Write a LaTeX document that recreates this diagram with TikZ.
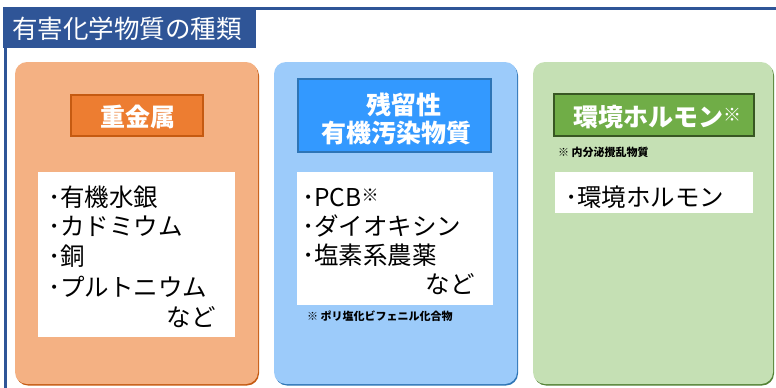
\documentclass[tikz,border=0pt]{standalone}
\usepackage{fontspec}
\setmainfont{Noto Sans CJK JP}
\usetikzlibrary{shadows}
\definecolor{navy}{HTML}{2F5597}
\definecolor{orfill}{HTML}{F4B183}
\definecolor{orhead}{HTML}{ED7D31}
\definecolor{ordark}{HTML}{C55A11}
\definecolor{blfill}{HTML}{9CCBFA}
\definecolor{blhead}{HTML}{3399FF}
\definecolor{bldark}{HTML}{2E75B6}
\definecolor{grfill}{HTML}{C5E0B4}
\definecolor{grhead}{HTML}{70AD47}
\definecolor{grdark}{HTML}{548235}
\definecolor{grborder}{HTML}{385723}
\begin{document}
\begin{tikzpicture}[x=1pt,y=-1pt,
  panel/.style={rounded corners=12pt, inner sep=0pt, minimum height=322pt},
  headbox/.style={inner sep=0pt, line width=2pt},
  whitebox/.style={fill=white, inner sep=0pt},
  body/.style={anchor=west, inner sep=0pt, font=\fontsize{24.5}{24.5}\selectfont, text height=21pt, text depth=3pt},
  bodyr/.style={body, anchor=east},
  headtext/.style={inner sep=0pt, text=white, font=\fontsize{25}{25}\selectfont\bfseries, text height=21pt, text depth=3pt},
  note/.style={anchor=west, inner sep=0pt, font=\fontsize{11}{11}\selectfont\bfseries}
]
\useasboundingbox (0,0) rectangle (776,388);
\fill[white] (0,0) rectangle (776,388);
% frame
\coordinate (tl) at (3,8.5);
\coordinate (tr) at (776,8.5);
\coordinate (lt) at (5,8);
\coordinate (lb) at (5,388);
\draw[navy, line width=2.5pt] (tl) -- (tr);
\draw[navy, line width=3pt] (lt) -- (lb);
\node[fill=navy, anchor=north west, minimum width=253pt, minimum height=41pt, inner sep=0pt] (band) at (3,7) {};
\node[anchor=west, inner sep=0pt, text=white, font=\fontsize{25.5}{25.5}\selectfont, text height=22pt, text depth=3pt] (title) at (12,29) {有害化学物質の種類};
% panels
\node[panel, fill=orfill, minimum width=243pt, drop shadow={shadow xshift=1pt, shadow yshift=-1.5pt, fill=ordark, opacity=1}] (orpanel) at (136.5,223) {};
\node[panel, fill=blfill, minimum width=243pt, drop shadow={shadow xshift=1pt, shadow yshift=-1.5pt, fill=bldark, opacity=1}] (blpanel) at (395.5,223) {};
\node[panel, fill=grfill, minimum width=240pt, drop shadow={shadow xshift=1pt, shadow yshift=-1.5pt, fill=grdark, opacity=1}] (grpanel) at (653,223) {};
% headers
\node[headbox, fill=orhead, draw=ordark, minimum width=132pt, minimum height=41pt] (orhead) at (137,115.5) {};
\node[headtext] (orheadtext) at (137.5,117) {重金属};
\node[headbox, fill=blhead, draw=bldark, minimum width=193pt, minimum height=73pt] (blhead) at (394.5,115.5) {};
\node[headtext] (blheadtext1) at (404,105) {残留性};
\node[headtext] (blheadtext2) at (396,133) {有機汚染物質};
\node[headbox, fill=grhead, draw=grborder, minimum width=200pt, minimum height=42pt] (grhead) at (654,115) {};
\node[headtext, anchor=west] (grheadtext) at (573,117) {環境ホルモン{\fontsize{18}{18}\selectfont\raisebox{5pt}{※}}};
% white boxes
\node[whitebox, minimum width=197pt, minimum height=165pt] (orwhite) at (136.5,254.5) {};
\node[whitebox, minimum width=196pt, minimum height=133pt] (blwhite) at (395,238.5) {};
\node[whitebox, minimum width=198pt, minimum height=41pt] (grwhite) at (654,192.5) {};
% orange items
\node[body] (or1) at (48,197) {･有機水銀};
\node[body] (or2) at (48,226.5) {･カドミウム};
\node[body] (or3) at (48,256.5) {･銅};
\node[body] (or4) at (48,287) {･プルトニウム};
\node[bodyr] (or5) at (216,317) {など};
\node[body] (bl1) at (302,197) {･PCB{\fontsize{17}{17}\selectfont\raisebox{5pt}{※}}};
% blue items
\node[body] (bl2) at (302,226) {･ダイオキシン};
\node[body] (bl3) at (302,255) {･塩素系農薬};
\node[bodyr] (bl4) at (475,284) {など};
\node[note] (blnote) at (307,316) {※ ポリ塩化ビフェニル化合物};
% green items
\node[note] (grnote) at (558,152) {※ 内分泌攪乱物質};
\node[body] (gr1) at (565,197) {･環境ホルモン};
\end{tikzpicture}
\end{document}
